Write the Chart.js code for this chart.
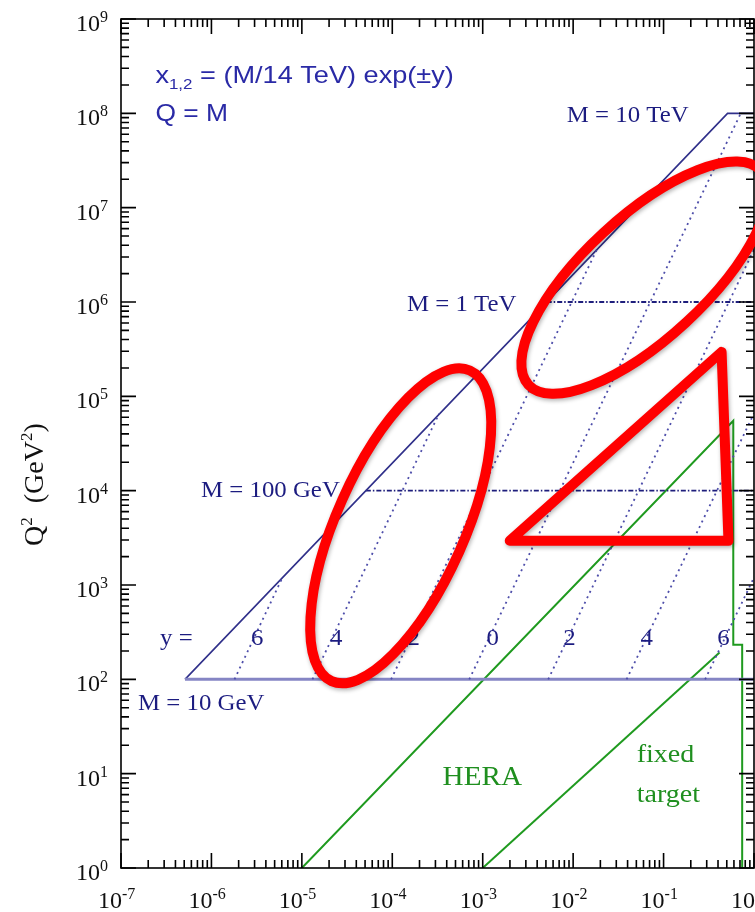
<!DOCTYPE html>
<html>
<head>
<meta charset="utf-8">
<script src="https://cdn.jsdelivr.net/npm/chart.js@4.4.1/dist/chart.umd.min.js"></script>
<style>
  html, body { margin: 0; padding: 0; background: #fff; overflow: hidden; }
  canvas { display: block; }
</style>
</head>
<body>
<canvas id="kin" width="800" height="912"></canvas>
<script>
// axis decades (tick labels are 10^n)
const X_EXP = [-7, -6, -5, -4, -3, -2, -1, 0];
const Y_EXP = [0, 1, 2, 3, 4, 5, 6, 7, 8, 9];
const MINOR = [2, 3, 4, 5, 6, 7, 8, 9];

// LHC reach: x = M^2/s edge, closed at M = 10 TeV
const edgeX = [5.1e-7, 0.51, 1];
const edgeQ2 = [100, 1e8, 1e8];
// M = 10 GeV floor
const floorX = [5.1e-7, 1];
const floorQ2 = [100, 100];
// M = 100 GeV, M = 1 TeV
const m100X = [5.1e-5, 1];
const m100Q2 = [1e4, 1e4];
const m1000X = [5.1e-3, 1];
const m1000Q2 = [1e6, 1e6];

// rapidity lines y = 6 ... -6
const rapLabels = ['6', '4', '2', '0', '2', '4', '6'];
const rapStartX = [1.8e-6, 1.31e-5, 9.7e-5, 7.1e-4, 5.3e-3, 0.039, 0.288];
const rapStartQ2 = [100, 100, 100, 100, 100, 100, 100];
const rapEndX = [6.1e-6, 3.3e-4, 0.0183, 0.714, 1, 1, 1];
const rapEndQ2 = [1200, 6.6e4, 3.6e6, 1e8, 3.6e6, 6.6e4, 1200];
const rapLabelX = [3.2e-6, 2.4e-5, 1.73e-4, 1.29e-3, 9.1e-3, 0.065, 0.46];
const rapLabelQ2 = 232;

// HERA and fixed target
const heraX = [1e-5, 0.59, 0.59, 0.74, 0.74];
const heraQ2 = [1, 5.5e4, 232, 232, 1];
const fixedX = [1e-3, 0.416];
const fixedQ2 = [1, 192];

const pts = (xs, ys) => xs.map((x, i) => ({ x: x, y: ys[i] }));

const NAVY = '#1c1c80';
const GREEN = '#1f8f1f';
const SERIF = '"Liberation Serif", "DejaVu Serif", serif';
const SANS = '"Liberation Sans", Arial, sans-serif';

const datasets = [];
rapLabels.forEach((lab, i) => {
  datasets.push({
    data: pts([rapStartX[i], rapEndX[i]], [rapStartQ2[i], rapEndQ2[i]]),
    borderColor: '#4e4eaa', borderWidth: 1.8, borderDash: [2, 4]
  });
});
datasets.push({ data: pts(floorX, floorQ2), borderColor: '#8585c4', borderWidth: 3 });
datasets.push({ data: pts(edgeX, edgeQ2), borderColor: '#30308a', borderWidth: 1.6 });
datasets.push({ data: pts(m100X, m100Q2), borderColor: '#1e1e7c', borderWidth: 1.8, borderDash: [5, 2, 1.5, 2] });
datasets.push({ data: pts(m1000X, m1000Q2), borderColor: '#1e1e7c', borderWidth: 1.8, borderDash: [5, 2, 1.5, 2] });
datasets.push({ data: pts(heraX, heraQ2), borderColor: '#1f9a1f', borderWidth: 2 });
datasets.push({ data: pts(fixedX, fixedQ2), borderColor: '#1f9a1f', borderWidth: 2 });
datasets.forEach(d => { d.showLine = true; d.pointRadius = 0; d.fill = false; d.tension = 0; });

// text placed at data coordinates (left edge / baseline unless align set)
const notes = [
  { text: 'M = 10 TeV', x: 8.5e-3, y: 8e7, font: '23px ' + SERIF, color: NAVY },
  { text: 'M = 1 TeV', x: 1.45e-4, y: 8.1e5, font: '23px ' + SERIF, color: NAVY },
  { text: 'M = 100 GeV', x: 2.63e-5, y: 8600, font: '23px ' + SERIF, color: NAVY, align: 'right' },
  { text: 'M = 10 GeV', x: 1.54e-7, y: 47, font: '23px ' + SERIF, color: NAVY },
  { text: 'y =', x: 2.7e-7, y: rapLabelQ2, font: '23px ' + SERIF, color: NAVY },
  { text: 'Q = M', x: 2.4e-7, y: 8.3e7, font: '24px ' + SANS, color: '#2a2aa6', sx: 1.1 },
  { text: 'HERA', x: 3.6e-4, y: 7.6, font: '27px ' + SERIF, color: GREEN },
  { text: 'fixed', x: 0.0504, y: 13.3, font: '26px ' + SERIF, color: GREEN },
  { text: 'target', x: 0.0504, y: 5.0, font: '26px ' + SERIF, color: GREEN }
];
rapLabels.forEach((lab, i) => {
  notes.push({ text: lab, x: rapLabelX[i], y: rapLabelQ2, font: '23px ' + SERIF, color: NAVY, align: 'center' });
});

// red hand-drawn marks (centres in data coordinates)
const ellipses = [
  { x: 1.24e-4, y: 4240, rx: 170, ry: 64, angle: 66 },
  { x: 0.0617, y: 1.81e6, rx: 158, ry: 61, angle: 42.7 }
];
const triX = [1.99e-3, 0.438, 0.522];
const triQ2 = [2940, 2.96e5, 2940];

function supText(ctx, base, exp, x, y, size, expSize, rise) {
  ctx.font = size + 'px ' + SERIF;
  ctx.fillText(base, x, y);
  const w = ctx.measureText(base).width;
  ctx.font = expSize + 'px ' + SERIF;
  ctx.fillText(exp, x + w, y - rise);
}

const decor = {
  id: 'decor',
  afterDatasetsDraw(chart) {
    const ctx = chart.ctx;
    const xs = chart.scales.x, ys = chart.scales.y;
    const a = chart.chartArea;
    ctx.save();
    ctx.strokeStyle = '#000';
    ctx.lineWidth = 1.6;
    ctx.strokeRect(a.left, a.top, a.right - a.left, a.bottom - a.top);

    // ticks on all four sides
    ctx.beginPath();
    X_EXP.forEach(e => {
      const v = Math.pow(10, e);
      const p = xs.getPixelForValue(v);
      ctx.moveTo(p, a.bottom); ctx.lineTo(p, a.bottom - 15);
      ctx.moveTo(p, a.top); ctx.lineTo(p, a.top + 15);
      if (e < 0) MINOR.forEach(m => {
        const q = xs.getPixelForValue(m * v);
        ctx.moveTo(q, a.bottom); ctx.lineTo(q, a.bottom - 8);
        ctx.moveTo(q, a.top); ctx.lineTo(q, a.top + 8);
      });
    });
    Y_EXP.forEach(e => {
      const v = Math.pow(10, e);
      const p = ys.getPixelForValue(v);
      ctx.moveTo(a.left, p); ctx.lineTo(a.left + 15, p);
      ctx.moveTo(a.right, p); ctx.lineTo(a.right - 15, p);
      if (e < 9) MINOR.forEach(m => {
        const q = ys.getPixelForValue(m * v);
        ctx.moveTo(a.left, q); ctx.lineTo(a.left + 8, q);
        ctx.moveTo(a.right, q); ctx.lineTo(a.right - 8, q);
      });
    });
    ctx.stroke();

    // tick labels
    ctx.fillStyle = '#111';
    ctx.textAlign = 'left';
    ctx.textBaseline = 'alphabetic';
    X_EXP.forEach(e => {
      const p = xs.getPixelForValue(Math.pow(10, e));
      supText(ctx, '10', String(e), p - 23, a.bottom + 40, 24, 16, 9);
    });
    Y_EXP.forEach(e => {
      const p = ys.getPixelForValue(Math.pow(10, e));
      supText(ctx, '10', String(e), 76, p + 12, 24, 16, 9);
    });

    // y axis title
    ctx.save();
    ctx.translate(43, 546);
    ctx.rotate(-Math.PI / 2);
    let cx = 0;
    const seg = [['Q', 28, 0], ['2', 17, 11], ['  (GeV', 28, 0], ['2', 17, 11], [')', 28, 0]];
    seg.forEach(s => {
      ctx.font = s[1] + 'px ' + SERIF;
      ctx.fillText(s[0], cx, -s[2]);
      cx += ctx.measureText(s[0]).width;
    });
    ctx.restore();

    // annotations
    notes.forEach(n => {
      const sx = n.sx || 1.08;
      ctx.save();
      ctx.font = n.font;
      ctx.fillStyle = n.color;
      ctx.textAlign = n.align || 'left';
      ctx.translate(xs.getPixelForValue(n.x), ys.getPixelForValue(n.y));
      ctx.scale(sx, 1);
      ctx.fillText(n.text, 0, 0);
      ctx.restore();
    });

    // formula x_{1,2} = (M/14 TeV) exp(±y)
    ctx.save();
    ctx.fillStyle = '#2a2aa6';
    ctx.textAlign = 'left';
    ctx.translate(xs.getPixelForValue(2.4e-7), ys.getPixelForValue(2.1e8));
    ctx.scale(1.13, 1);
    let fx = 0;
    ctx.font = '24px ' + SANS;
    ctx.fillText('x', fx, 0);
    fx += ctx.measureText('x').width;
    ctx.font = '15px ' + SANS;
    ctx.fillText('1,2', fx, 6);
    fx += ctx.measureText('1,2').width;
    ctx.font = '24px ' + SANS;
    ctx.fillText(' = (M/14 TeV) exp(\u00b1y)', fx, 0);
    ctx.restore();

    // red marks
    ctx.strokeStyle = '#ff0000';
    ctx.lineWidth = 10;
    ctx.lineJoin = 'round';
    ctx.shadowColor = 'rgba(0,0,0,0.3)';
    ctx.shadowBlur = 4;
    ctx.shadowOffsetX = 1;
    ctx.shadowOffsetY = 2;
    ellipses.forEach(el => {
      ctx.beginPath();
      ctx.ellipse(xs.getPixelForValue(el.x), ys.getPixelForValue(el.y), el.rx, el.ry,
        -el.angle * Math.PI / 180, 0, Math.PI * 2);
      ctx.stroke();
    });
    ctx.beginPath();
    triX.forEach((x, i) => {
      const px = xs.getPixelForValue(x), py = ys.getPixelForValue(triQ2[i]);
      if (i === 0) ctx.moveTo(px, py); else ctx.lineTo(px, py);
    });
    ctx.closePath();
    ctx.stroke();
    ctx.restore();
  }
};

new Chart(document.getElementById('kin'), {
  type: 'scatter',
  data: { datasets: datasets },
  options: {
    responsive: false,
    animation: false,
    events: [],
    layout: { padding: { left: 121, top: 19, right: 46, bottom: 44 } },
    plugins: { legend: { display: false }, tooltip: { enabled: false } },
    scales: {
      x: { type: 'logarithmic', min: 1e-7, max: 1, display: false },
      y: { type: 'logarithmic', min: 1, max: 1e9, display: false }
    }
  },
  plugins: [decor]
});
</script>
</body>
</html>
